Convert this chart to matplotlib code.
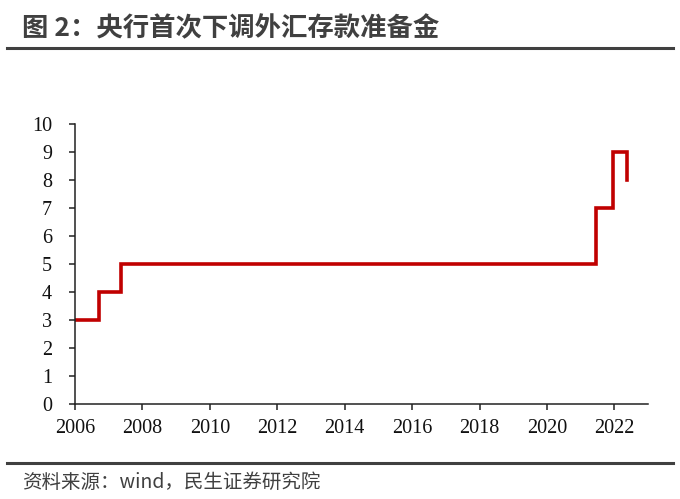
import matplotlib
matplotlib.use("Agg")
import matplotlib.pyplot as plt
from matplotlib.lines import Line2D

# Data: FX deposit reserve ratio (%), change dates as decimal years
dates = [2006.0, 2006.71, 2007.37, 2021.45, 2021.95, 2022.37]
ratios = [3, 4, 5, 7, 9, 8]
xticks = [2006, 2008, 2010, 2012, 2014, 2016, 2018, 2020, 2022]
yticks = list(range(0, 11))

title = "图 2：央行首次下调外汇存款准备金"
source = "资料来源：wind，民生证券研究院"

cjk = ["Noto Sans CJK SC", "DejaVu Sans"]

fig = plt.figure(figsize=(6.8, 4.99), dpi=100)
ax = fig.add_axes([0.1103, 0.1904, 0.953 - 0.1103, 0.7515 - 0.1904])

ax.step(dates, ratios, where="post", color="#C00000", lw=2.6, solid_joinstyle="miter")

ax.set_xlim(2006, 2023)
ax.set_ylim(0, 10)
ax.set_xticks(xticks)
ax.set_yticks(yticks)
for s in ["top", "right"]:
    ax.spines[s].set_visible(False)
for s in ["left", "bottom"]:
    ax.spines[s].set_color("#222222")
    ax.spines[s].set_linewidth(1.1)
ax.tick_params(axis="both", direction="out", length=4.5, width=1.1, color="#222222",
               labelsize=14.5)
ax.tick_params(axis="x", pad=6)
ax.tick_params(axis="y", pad=12)
for lab in ax.get_xticklabels() + ax.get_yticklabels():
    lab.set_family("Liberation Serif")
    lab.set_color("#111111")

fig.text(22 / 680, 1 - 29 / 499, title, family=cjk, fontsize=19, fontweight="bold",
         color="#404040", va="center", ha="left")
fig.add_artist(Line2D([7 / 680, 673 / 680], [1 - 48 / 499, 1 - 48 / 499],
                      color="#404040", lw=2.2, transform=fig.transFigure))
fig.add_artist(Line2D([7 / 680, 673 / 680], [1 - 463 / 499, 1 - 463 / 499],
                      color="#404040", lw=2.2, transform=fig.transFigure))
fig.text(22 / 680, 1 - 482 / 499, source, family=cjk, fontsize=14,
         color="#404040", va="center", ha="left")

fig.savefig("out.png", dpi=100)
